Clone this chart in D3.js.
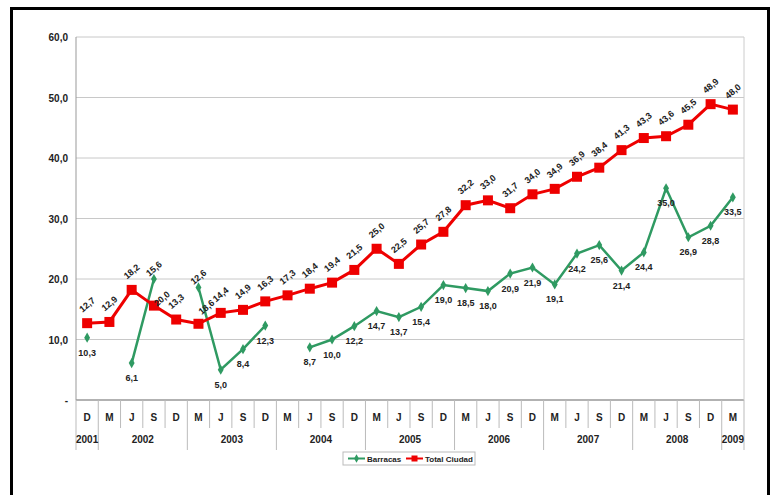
<!DOCTYPE html>
<html>
<head>
<meta charset="utf-8">
<script src="https://cdn.jsdelivr.net/npm/d3@7"></script>
<style>
  body { margin: 0; background: #fff; }
  text { font-family: "Liberation Sans", Arial, sans-serif; font-weight: bold; fill: #222; }
</style>
</head>
<body>
<div id="container"></div>
<script>
var width = 774, height = 495;

// quarter labels (D 2001 ... M 2009)
var quarters = ["D","M","J","S","D","M","J","S","D","M","J","S","D","M","J","S","D",
                "M","J","S","D","M","J","S","D","M","J","S","D","M"];
var years = ["2001","2002","2003","2004","2005","2006","2007","2008","2009"];
var yearCounts = [1,4,4,4,4,4,4,4,1];

var barracas = [10.3, null, 6.1, 20.0, null, 18.6, 5.0, 8.4, 12.3, null, 8.7, 10.0, 12.2,
                14.7, 13.7, 15.4, 19.0, 18.5, 18.0, 20.9, 21.9, 19.1, 24.2, 25.6, 21.4,
                24.4, 35.0, 26.9, 28.8, 33.5];
var totalCiudad = [12.7, 12.9, 18.2, 15.6, 13.3, 12.6, 14.4, 14.9, 16.3, 17.3, 18.4, 19.4,
                   21.5, 25.0, 22.5, 25.7, 27.8, 32.2, 33.0, 31.7, 34.0, 34.9, 36.9, 38.4,
                   41.3, 43.3, 43.6, 45.5, 48.9, 48.0];
var yTicks = [0, 10, 20, 30, 40, 50, 60];

var margin = {left: 76, right: 30, top: 37, bottom: 95};
var plotW = width - margin.left - margin.right;
var plotH = height - margin.top - margin.bottom;

var green = "#2f9a62", red = "#ee0000";

const SVG = d3.select("#container")
              .append("svg")
              .attr("width", width)
              .attr("height", height);

// outer frame
SVG.append("rect")
   .attr("x", 11.5).attr("y", 8.5)
   .attr("width", 757).attr("height", 500)
   .attr("fill", "none").attr("stroke", "#000").attr("stroke-width", 3);

var x = d3.scaleBand()
          .domain(d3.range(quarters.length))
          .range([margin.left, margin.left + plotW]);
var cx = (i) => x(i) + x.bandwidth() / 2;

var y = d3.scaleLinear()
          .domain([0, 60])
          .range([margin.top + plotH, margin.top]);

var fmt = (v) => v.toFixed(1).replace(".", ",");

// gridlines
SVG.selectAll(".grid")
   .data(yTicks)
   .enter()
   .append("line")
   .attr("x1", margin.left).attr("x2", margin.left + plotW)
   .attr("y1", (d) => y(d)).attr("y2", (d) => y(d))
   .attr("stroke", (d) => d == 0 ? "#999" : "#c8c8c8")
   .attr("stroke-width", (d) => d == 0 ? 1.5 : 1);

// plot borders
SVG.append("line")
   .attr("x1", margin.left).attr("x2", margin.left)
   .attr("y1", y(60)).attr("y2", y(0))
   .attr("stroke", "#999");
SVG.append("line")
   .attr("x1", margin.left + plotW).attr("x2", margin.left + plotW)
   .attr("y1", y(60)).attr("y2", y(0))
   .attr("stroke", "#ccc");

// y labels
SVG.selectAll(".ylab")
   .data(yTicks)
   .enter()
   .append("text")
   .attr("x", 68)
   .attr("y", (d) => y(d) + 4)
   .attr("text-anchor", "end")
   .attr("font-size", "10px")
   .text((d) => d == 0 ? "-" : fmt(d));

// category separators
var base = y(0);
var yearStarts = [];
var acc = 0;
yearCounts.forEach((c) => { yearStarts.push(acc); acc += c; });

SVG.selectAll(".qsep")
   .data(d3.range(quarters.length + 1))
   .enter()
   .append("line")
   .attr("x1", (i) => i < quarters.length ? x(i) : margin.left + plotW)
   .attr("x2", (i) => i < quarters.length ? x(i) : margin.left + plotW)
   .attr("y1", base)
   .attr("y2", (i) => (yearStarts.indexOf(i) >= 0 || i == quarters.length) ? base + 50 : base + 28)
   .attr("stroke", "#bbb");

SVG.selectAll(".qlab")
   .data(quarters)
   .enter()
   .append("text")
   .attr("x", (d, i) => cx(i))
   .attr("y", base + 21)
   .attr("text-anchor", "middle")
   .attr("font-size", "10px")
   .text((d) => d);

SVG.selectAll(".ylabyear")
   .data(years)
   .enter()
   .append("text")
   .attr("x", (d, i) => (cx(yearStarts[i]) + cx(yearStarts[i] + yearCounts[i] - 1)) / 2)
   .attr("y", base + 43)
   .attr("text-anchor", "middle")
   .attr("font-size", "10px")
   .text((d) => d);

// lines
var line = d3.line()
             .defined((d) => d != null)
             .x((d, i) => cx(i))
             .y((d) => y(d));

SVG.append("path")
   .datum(barracas)
   .attr("d", line)
   .attr("fill", "none")
   .attr("stroke", green)
   .attr("stroke-width", 2.5);

SVG.append("path")
   .datum(totalCiudad)
   .attr("d", line)
   .attr("fill", "none")
   .attr("stroke", red)
   .attr("stroke-width", 3);

var gPts = barracas.map((v, i) => ({v: v, i: i})).filter((d) => d.v != null);
var rPts = totalCiudad.map((v, i) => ({v: v, i: i}));

SVG.selectAll(".gmark")
   .data(gPts)
   .enter()
   .append("path")
   .attr("d", d3.symbol(d3.symbolDiamond, 30))
   .attr("transform", (d) => `translate(${cx(d.i)},${y(d.v)})`)
   .attr("fill", green);

SVG.selectAll(".rmark")
   .data(rPts)
   .enter()
   .append("rect")
   .attr("x", (d) => cx(d.i) - 5)
   .attr("y", (d) => y(d.v) - 5)
   .attr("width", 10).attr("height", 10)
   .attr("fill", red);

// data labels: where Barracas sits above the total, the total's label goes above
// the green point and the green label turns and moves beside it
var greenAbove = (i) => barracas[i] != null && barracas[i] > totalCiudad[i];

SVG.selectAll(".rlab")
   .data(rPts)
   .enter()
   .append("text")
   .attr("transform", (d) => {
     var top = greenAbove(d.i) ? y(barracas[d.i]) - 8 : y(d.v) - 16;
     return `translate(${cx(d.i) + 2},${top}) rotate(-40)`;
   })
   .attr("text-anchor", "middle")
   .attr("font-size", "9px")
   .text((d) => fmt(d.v));

SVG.selectAll(".glab")
   .data(gPts)
   .enter()
   .append("text")
   .attr("transform", (d) => greenAbove(d.i)
         ? `translate(${cx(d.i) + 10},${y(d.v) + 22}) rotate(-40)`
         : `translate(${cx(d.i)},${y(d.v) + 18})`)
   .attr("text-anchor", "middle")
   .attr("font-size", "9px")
   .text((d) => fmt(d.v));

// legend
var LEGEND = SVG.append("g").attr("transform", "translate(343,452)");
LEGEND.append("rect")
      .attr("width", 132).attr("height", 13)
      .attr("fill", "#fff").attr("stroke", "#bbb");
LEGEND.append("line")
      .attr("x1", 5).attr("x2", 22).attr("y1", 6.5).attr("y2", 6.5)
      .attr("stroke", green).attr("stroke-width", 2);
LEGEND.append("path")
      .attr("d", d3.symbol(d3.symbolDiamond, 20))
      .attr("transform", "translate(13.5,6.5)")
      .attr("fill", green);
LEGEND.append("text")
      .attr("x", 24).attr("y", 10)
      .attr("font-size", "8px")
      .text("Barracas");
LEGEND.append("line")
      .attr("x1", 63).attr("x2", 80).attr("y1", 6.5).attr("y2", 6.5)
      .attr("stroke", red).attr("stroke-width", 2);
LEGEND.append("rect")
      .attr("x", 68.5).attr("y", 3.5).attr("width", 6).attr("height", 6)
      .attr("fill", red);
LEGEND.append("text")
      .attr("x", 82).attr("y", 10)
      .attr("font-size", "8px")
      .text("Total Ciudad");
</script>
</body>
</html>
